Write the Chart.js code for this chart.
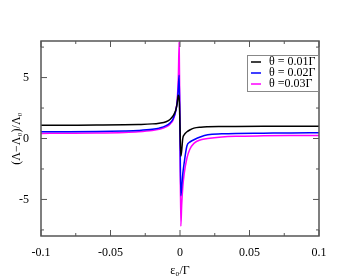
<!DOCTYPE html>
<html>
<head>
<meta charset="utf-8">
<script src="https://cdn.jsdelivr.net/npm/chart.js@4.4.1/dist/chart.umd.min.js"></script>
<style>
  html, body { margin: 0; padding: 0; background: #fff; }
  #wrap { width: 359px; height: 278px; }
</style>
</head>
<body>
<div id="wrap"><canvas id="grafico"></canvas></div>
<script>
// datos
const eps = [-0.1, -0.08, -0.06, -0.04, -0.03, -0.02, -0.015, -0.01, -0.007, -0.005, -0.003, -0.002, -0.0012, -0.0006, 0,
             0.0006, 0.0012, 0.002, 0.003, 0.005, 0.007, 0.01, 0.015, 0.02, 0.03, 0.04, 0.06, 0.08, 0.1];
const theta001 = [1.08, 1.09, 1.1, 1.12, 1.15, 1.2, 1.26, 1.38, 1.58, 1.85, 2.35, 2.9, 3.55, 3.3, 1.0,
                  -1.45, -1.0, 0.0, 0.3, 0.55, 0.7, 0.85, 0.93, 0.96, 0.98, 0.99, 1.0, 1.0, 1.0];
const theta002 = [0.55, 0.56, 0.58, 0.62, 0.66, 0.75, 0.85, 1.05, 1.3, 1.6, 2.3, 3.0, 4.2, 5.2, 0.5,
                  -4.7, -4.0, -2.9, -2.0, -0.6, -0.3, -0.1, 0.15, 0.3, 0.38, 0.42, 0.44, 0.46, 0.47];
const theta003 = [0.42, 0.43, 0.45, 0.5, 0.55, 0.65, 0.75, 0.95, 1.2, 1.5, 2.3, 3.2, 5.0, 7.9, 0.3,
                  -7.2, -5.5, -4.0, -2.9, -1.6, -0.9, -0.4, -0.1, 0.0, 0.12, 0.18, 0.22, 0.24, 0.25];

const seriesLabels = ['θ = 0.01Γ', 'θ = 0.02Γ', 'θ =0.03Γ'];
const seriesColors = ['#000000', '#0000ff', '#ff00ff'];

const xTickLabels = [-0.1, -0.05, 0, 0.05, 0.1];
const yTickLabels = [-5, 0, 5];
const xMinorTicks = [-0.075, -0.025, 0.025, 0.075];
const yMinorTicks = [-7.5, -2.5, 2.5, 7.5];

const fuente = 'Liberation Serif, Times New Roman, serif';

function puntos(ys) {
    return eps.map((x, i) => ({ x: x, y: ys[i] }));
}

// marco, ticks hacia dentro y leyenda
const marco = {
    id: 'marco',
    afterDraw(chart) {
        const ctx = chart.ctx;
        const a = chart.chartArea;
        const xs = chart.scales.x, ys = chart.scales.y;
        ctx.save();
        ctx.strokeStyle = '#555';
        ctx.lineWidth = 1.5;
        ctx.strokeRect(a.left, a.top, a.right - a.left, a.bottom - a.top);
        ctx.lineWidth = 1;
        ctx.beginPath();
        xTickLabels.forEach(v => {
            const p = xs.getPixelForValue(v);
            ctx.moveTo(p, a.bottom); ctx.lineTo(p, a.bottom - 6);
            ctx.moveTo(p, a.top); ctx.lineTo(p, a.top + 6);
        });
        xMinorTicks.forEach(v => {
            const p = xs.getPixelForValue(v);
            ctx.moveTo(p, a.bottom); ctx.lineTo(p, a.bottom - 3);
            ctx.moveTo(p, a.top); ctx.lineTo(p, a.top + 3);
        });
        yTickLabels.forEach(v => {
            const p = ys.getPixelForValue(v);
            ctx.moveTo(a.left, p); ctx.lineTo(a.left + 6, p);
            ctx.moveTo(a.right, p); ctx.lineTo(a.right - 6, p);
        });
        yMinorTicks.forEach(v => {
            const p = ys.getPixelForValue(v);
            ctx.moveTo(a.left, p); ctx.lineTo(a.left + 3, p);
            ctx.moveTo(a.right, p); ctx.lineTo(a.right - 3, p);
        });
        ctx.stroke();

        // leyenda
        const bx = a.right - 72, by = a.top + 14, bw = 71, bh = 36;
        ctx.fillStyle = '#fff';
        ctx.fillRect(bx, by, bw, bh);
        ctx.strokeStyle = '#888';
        ctx.strokeRect(bx + 0.5, by + 0.5, bw, bh);
        ctx.font = '12px ' + fuente;
        ctx.textBaseline = 'middle';
        chart.data.datasets.forEach((ds, i) => {
            const y = by + 7 + i * 11;
            ctx.strokeStyle = ds.borderColor;
            ctx.lineWidth = 1.5;
            ctx.beginPath();
            ctx.moveTo(bx + 4, y); ctx.lineTo(bx + 14, y);
            ctx.stroke();
            ctx.fillStyle = '#000';
            ctx.fillText(ds.label, bx + 22, y);
        });
        ctx.restore();
    }
};

const ctx = document.getElementById('grafico').getContext('2d');
new Chart(ctx, {
    type: 'line',
    data: {
        datasets: [theta001, theta002, theta003].map((ys, i) => ({
            label: seriesLabels[i],
            data: puntos(ys),
            borderColor: seriesColors[i],
            backgroundColor: seriesColors[i],
            borderWidth: 1.5,
            pointRadius: 0,
            fill: false,
            cubicInterpolationMode: 'monotone'
        }))
    },
    options: {
        responsive: true,
        maintainAspectRatio: false,
        animation: false,
        layout: { padding: { left: 10, top: 41, right: 40, bottom: 0 } },
        plugins: { legend: { display: false }, tooltip: { enabled: false } },
        scales: {
            x: {
                type: 'linear',
                min: -0.1, max: 0.1,
                grid: { display: false },
                border: { display: false },
                afterBuildTicks: s => { s.ticks = xTickLabels.map(v => ({ value: v })); },
                afterFit: s => { s.height = 42; },
                ticks: {
                    color: '#000', padding: 2, maxRotation: 0,
                    font: { family: fuente, size: 12 },
                    callback: v => String(v)
                },
                title: {
                    display: true, text: 'ε₀/Γ', color: '#000', padding: 0,
                    font: { family: fuente, size: 12 }
                }
            },
            y: {
                min: -8, max: 8,
                grid: { display: false },
                border: { display: false },
                afterBuildTicks: s => { s.ticks = yTickLabels.map(v => ({ value: v })); },
                afterFit: s => { s.width = 31; },
                ticks: {
                    color: '#000', padding: 4,
                    font: { family: fuente, size: 12 },
                    callback: v => String(v)
                },
                title: {
                    display: true, text: '(Λ−Λ₀)/Λ₀', color: '#000', padding: 0,
                    font: { family: fuente, size: 12 }
                }
            }
        }
    },
    plugins: [marco]
});
</script>
</body>
</html>
